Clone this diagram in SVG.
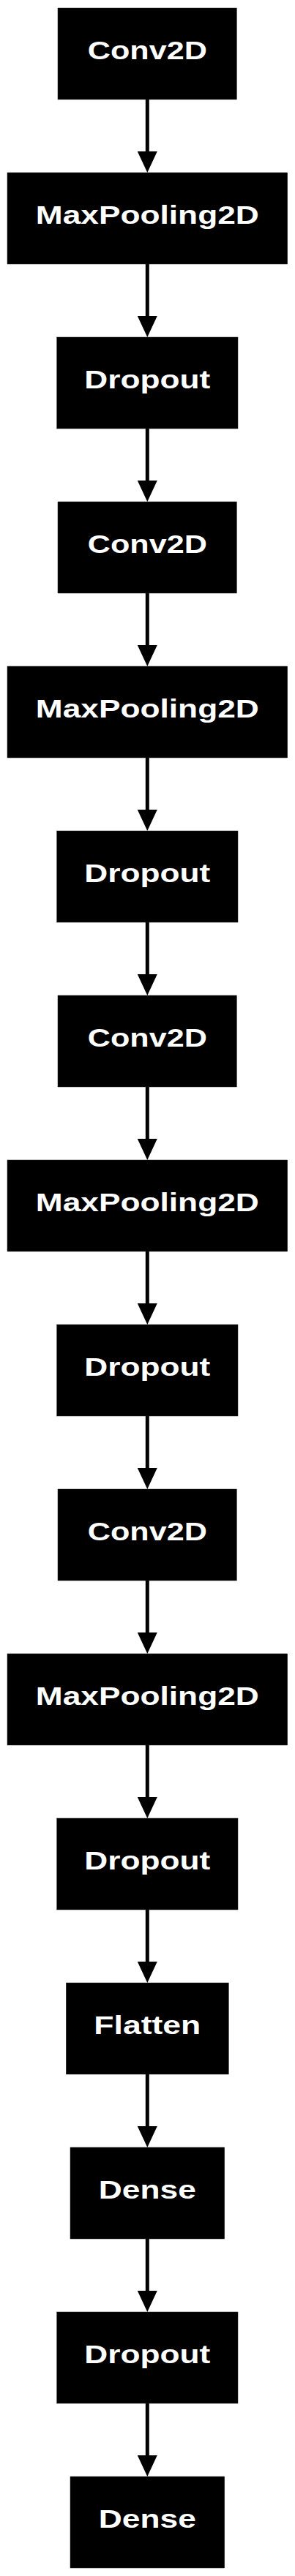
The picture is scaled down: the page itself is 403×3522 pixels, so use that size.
<svg xmlns="http://www.w3.org/2000/svg" width="403" height="3522" viewBox="0 0 403 3522">
<style>
.box{fill:#000;stroke:#222;stroke-width:0.5}
.lbl{fill:#fff;font-family:"Liberation Sans",Arial,sans-serif;font-weight:bold;font-size:35px;text-anchor:middle}
.edge{stroke:#000;stroke-width:5;fill:none;marker-end:url(#ah)}
</style>
<defs>
<marker id="ah" markerUnits="userSpaceOnUse" markerWidth="30" markerHeight="27" viewBox="0 0 30 27" refX="0" refY="13.5" orient="auto">
<path d="M0,0 L29,13.5 L0,27 z" fill="#000"/>
</marker>
</defs>
<rect width="403" height="3522" fill="#fff"/>
<g id="connectors">
<line class="edge" x1="201.3" y1="136" x2="201.3" y2="207"/>
<line class="edge" x1="201.3" y1="361" x2="201.3" y2="432"/>
<line class="edge" x1="201.3" y1="586" x2="201.3" y2="657"/>
<line class="edge" x1="201.3" y1="811" x2="201.3" y2="882"/>
<line class="edge" x1="201.3" y1="1036" x2="201.3" y2="1107"/>
<line class="edge" x1="201.3" y1="1261" x2="201.3" y2="1332"/>
<line class="edge" x1="201.3" y1="1486" x2="201.3" y2="1557"/>
<line class="edge" x1="201.3" y1="1711" x2="201.3" y2="1782"/>
<line class="edge" x1="201.3" y1="1936" x2="201.3" y2="2007"/>
<line class="edge" x1="201.3" y1="2161" x2="201.3" y2="2232"/>
<line class="edge" x1="201.3" y1="2386" x2="201.3" y2="2457"/>
<line class="edge" x1="201.3" y1="2611" x2="201.3" y2="2682"/>
<line class="edge" x1="201.3" y1="2836" x2="201.3" y2="2907"/>
<line class="edge" x1="201.3" y1="3061" x2="201.3" y2="3132"/>
<line class="edge" x1="201.3" y1="3286" x2="201.3" y2="3357"/>
</g>
<g id="n1"><rect class="box" x="79" y="11" width="244.3" height="125"/><text class="lbl" x="201.3" y="81" textLength="163" lengthAdjust="spacingAndGlyphs">Conv2D</text></g>
<g id="n2"><rect class="box" x="10" y="236" width="382.7" height="125"/><text class="lbl" x="201.3" y="306" textLength="305" lengthAdjust="spacingAndGlyphs">MaxPooling2D</text></g>
<g id="n3"><rect class="box" x="77.7" y="461" width="247.3" height="125"/><text class="lbl" x="201.3" y="531" textLength="172" lengthAdjust="spacingAndGlyphs">Dropout</text></g>
<g id="n4"><rect class="box" x="79" y="686" width="244.3" height="125"/><text class="lbl" x="201.3" y="756" textLength="163" lengthAdjust="spacingAndGlyphs">Conv2D</text></g>
<g id="n5"><rect class="box" x="10" y="911" width="382.7" height="125"/><text class="lbl" x="201.3" y="981" textLength="305" lengthAdjust="spacingAndGlyphs">MaxPooling2D</text></g>
<g id="n6"><rect class="box" x="77.7" y="1136" width="247.3" height="125"/><text class="lbl" x="201.3" y="1206" textLength="172" lengthAdjust="spacingAndGlyphs">Dropout</text></g>
<g id="n7"><rect class="box" x="79" y="1361" width="244.3" height="125"/><text class="lbl" x="201.3" y="1431" textLength="163" lengthAdjust="spacingAndGlyphs">Conv2D</text></g>
<g id="n8"><rect class="box" x="10" y="1586" width="382.7" height="125"/><text class="lbl" x="201.3" y="1656" textLength="305" lengthAdjust="spacingAndGlyphs">MaxPooling2D</text></g>
<g id="n9"><rect class="box" x="77.7" y="1811" width="247.3" height="125"/><text class="lbl" x="201.3" y="1881" textLength="172" lengthAdjust="spacingAndGlyphs">Dropout</text></g>
<g id="n10"><rect class="box" x="79" y="2036" width="244.3" height="125"/><text class="lbl" x="201.3" y="2106" textLength="163" lengthAdjust="spacingAndGlyphs">Conv2D</text></g>
<g id="n11"><rect class="box" x="10" y="2261" width="382.7" height="125"/><text class="lbl" x="201.3" y="2331" textLength="305" lengthAdjust="spacingAndGlyphs">MaxPooling2D</text></g>
<g id="n12"><rect class="box" x="77.7" y="2486" width="247.3" height="125"/><text class="lbl" x="201.3" y="2556" textLength="172" lengthAdjust="spacingAndGlyphs">Dropout</text></g>
<g id="n13"><rect class="box" x="90.3" y="2711" width="222" height="125"/><text class="lbl" x="201.3" y="2781" textLength="146" lengthAdjust="spacingAndGlyphs">Flatten</text></g>
<g id="n14"><rect class="box" x="96" y="2936" width="210.7" height="125"/><text class="lbl" x="201.3" y="3006" textLength="133" lengthAdjust="spacingAndGlyphs">Dense</text></g>
<g id="n15"><rect class="box" x="77.7" y="3161" width="247.3" height="125"/><text class="lbl" x="201.3" y="3231" textLength="172" lengthAdjust="spacingAndGlyphs">Dropout</text></g>
<g id="n16"><rect class="box" x="96" y="3386" width="210.7" height="125"/><text class="lbl" x="201.3" y="3456" textLength="133" lengthAdjust="spacingAndGlyphs">Dense</text></g>
</svg>
